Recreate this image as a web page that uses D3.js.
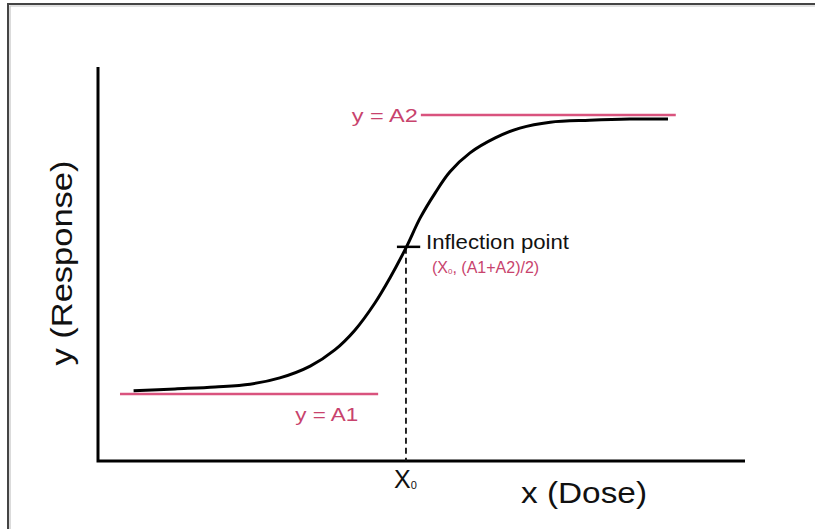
<!DOCTYPE html>
<html>
<meta charset="utf-8">
<script src="https://d3js.org/d3.v7.min.js"></script>
<style>
  body { margin: 0; background: #fff; }
  text { font-family: "Liberation Sans", Arial, sans-serif; }
</style>
<body>
<div id="my_dataviz"></div>
<script>

// dose / response values
var doseValues = [0.55, 1.19, 1.81, 2.35, 2.81, 3.28, 3.66, 3.97, 4.28, 4.51, 4.76, 4.98, 5.21, 5.44, 5.75, 6.14, 6.52, 6.99, 7.60, 8.22, 8.81];
var responseValues = [1.78, 1.83, 1.88, 1.95, 2.11, 2.41, 2.82, 3.32, 4.01, 4.64, 5.41, 6.17, 6.80, 7.34, 7.82, 8.20, 8.45, 8.60, 8.65, 8.68, 8.68];

// asymptotes and inflection point
var A1 = 1.70, A2 = 8.78;
var a1Range = [0.34, 4.33];
var a2Range = [4.99, 8.93];
var x0 = 4.76, yInflection = 5.41;

var labels = {
  a1: "y = A1",
  a2: "y = A2",
  inflection: "Inflection point",
  xAxis: "x (Dose)",
  yAxis: "y (Response)"
};

var width = 815, height = 529;
var pink = "#d9537e", pinkText = "#c8436d";

var svg = d3.select("#my_dataviz")
  .append("svg")
    .attr("width", width)
    .attr("height", height);

// frame at top and left edges
svg.append("path")
  .attr("d", "M8,529 V4 H815")
  .attr("fill", "none")
  .attr("stroke", "#444")
  .attr("stroke-width", 2);
svg.append("path")
  .attr("d", "M10,529 V6 H815")
  .attr("fill", "none")
  .attr("stroke", "#c4c4c4")
  .attr("stroke-width", 1.2);

var x = d3.scaleLinear().domain([0, 10]).range([98, 745]);
var y = d3.scaleLinear().domain([0, 10]).range([461, 67]);

// axes (no ticks)
svg.append("path")
  .attr("d", "M" + x(0) + "," + y(10) + " V" + y(0) + " H" + x(10))
  .attr("fill", "none")
  .attr("stroke", "#000")
  .attr("stroke-width", 3)
  .attr("stroke-linejoin", "miter");

// asymptote lines
svg.append("line")
  .attr("x1", x(a1Range[0])).attr("x2", x(a1Range[1]))
  .attr("y1", y(A1)).attr("y2", y(A1))
  .attr("stroke", pink).attr("stroke-width", 2.5);
svg.append("line")
  .attr("x1", x(a2Range[0])).attr("x2", x(a2Range[1]))
  .attr("y1", y(A2)).attr("y2", y(A2))
  .attr("stroke", pink).attr("stroke-width", 2.5);

// dashed drop line from inflection point
svg.append("line")
  .attr("x1", x(x0)).attr("x2", x(x0))
  .attr("y1", y(yInflection)).attr("y2", y(0))
  .attr("stroke", "#111").attr("stroke-width", 1.8)
  .attr("stroke-dasharray", "6,4");

// sigmoid curve
var pts = doseValues.map(function(d, i) { return [d, responseValues[i]]; });
var line = d3.line()
  .x(function(d) { return x(d[0]); })
  .y(function(d) { return y(d[1]); })
  .curve(d3.curveCatmullRom);
svg.append("path")
  .datum(pts)
  .attr("d", line)
  .attr("fill", "none")
  .attr("stroke", "#000")
  .attr("stroke-width", 3);

// tick at inflection
svg.append("line")
  .attr("x1", x(x0 - 0.14)).attr("x2", x(x0 + 0.22))
  .attr("y1", y(yInflection) - 1).attr("y2", y(yInflection) - 1)
  .attr("stroke", "#000").attr("stroke-width", 2.5);

// labels
svg.append("text")
  .attr("x", x(a2Range[0]) - 3)
  .attr("y", y(A2) + 7)
  .attr("text-anchor", "end")
  .attr("fill", pinkText)
  .style("font-size", "19px")
  .attr("textLength", 66).attr("lengthAdjust", "spacingAndGlyphs")
  .text(labels.a2);

svg.append("text")
  .attr("x", x(3.05))
  .attr("y", y(A1) + 27)
  .attr("fill", pinkText)
  .style("font-size", "19px")
  .attr("textLength", 63).attr("lengthAdjust", "spacingAndGlyphs")
  .text(labels.a1);

svg.append("text")
  .attr("x", x(x0) + 20)
  .attr("y", y(yInflection) + 1)
  .attr("fill", "#111")
  .style("font-size", "20px")
  .attr("textLength", 143).attr("lengthAdjust", "spacingAndGlyphs")
  .text(labels.inflection);

var sub = svg.append("text")
  .attr("x", x(x0) + 26)
  .attr("y", y(yInflection) + 25)
  .attr("fill", pinkText)
  .style("font-size", "16px");
sub.append("tspan").text("(X");
sub.append("tspan").style("font-size", "8px").attr("dy", 1).text("0");
sub.append("tspan").attr("dy", -1).text(", (A1+A2)/2)");

var xl = svg.append("text")
  .attr("x", x(x0) - 12)
  .attr("y", y(0) + 27)
  .attr("fill", "#111")
  .style("font-size", "25px");
xl.append("tspan").text("X");
xl.append("tspan").style("font-size", "11px").attr("dy", 1).text("0");

svg.append("text")
  .attr("x", 521)
  .attr("y", 503)
  .attr("fill", "#111")
  .style("font-size", "29px")
  .attr("textLength", 126).attr("lengthAdjust", "spacingAndGlyphs")
  .text(labels.xAxis);

svg.append("text")
  .attr("transform", "translate(72,263) rotate(-90)")
  .attr("text-anchor", "middle")
  .attr("fill", "#111")
  .style("font-size", "29px")
  .attr("textLength", 205).attr("lengthAdjust", "spacingAndGlyphs")
  .text(labels.yAxis);

</script>
</body>
</html>
